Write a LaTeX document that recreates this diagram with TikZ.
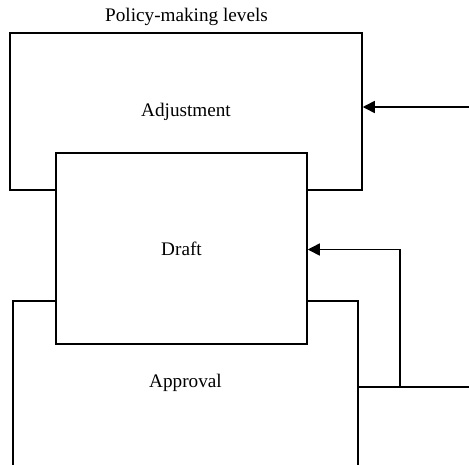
\documentclass[tikz,border=0pt]{standalone}
\usepackage{fontspec}
\setmainfont{Liberation Serif}
\usetikzlibrary{arrows.meta}
\begin{document}
\begin{tikzpicture}[x=1pt,y=-1pt,
  txt/.style={font=\fontsize{19.2}{23}\selectfont},
  levelbox/.style={draw=black,fill=white,line width=1.5pt,rectangle,inner sep=0pt,txt},
  flow/.style={draw=black,line width=1.5pt},
  feed/.style={flow,-{Triangle[length=12pt,width=12pt]}}]
  \useasboundingbox (0,0) rectangle (469,464);
  \clip (0,0) rectangle (469,464);
  % title
  \node[txt] (title) at (186.5,17) {Policy-making levels};
  % the three levels, the draft box drawn last so it covers the others
  \node[levelbox,minimum width=352pt,minimum height=157pt] (adj) at (186,111.5) {Adjustment};
  \node[levelbox,minimum width=345pt,minimum height=190pt] (appr) at (185.5,396) {};
  \node[txt] (apprtext) at (185.5,383) {Approval};
  \node[levelbox,minimum width=251pt,minimum height=191pt] (draft) at (181.5,248.5) {Draft};
  % incoming feedback lines
  \coordinate (inA) at (469,107);
  \coordinate (inB) at (469,387);
  \coordinate (split) at (400,387);
  \coordinate (up) at (400,249.5);
  \draw[feed] (inA) -- (inA -| adj.east);
  \draw[flow] (inB -| appr.east) -- (inB);
  \draw[feed] (split) -- (up) -- (up -| draft.east);
\end{tikzpicture}
\end{document}
